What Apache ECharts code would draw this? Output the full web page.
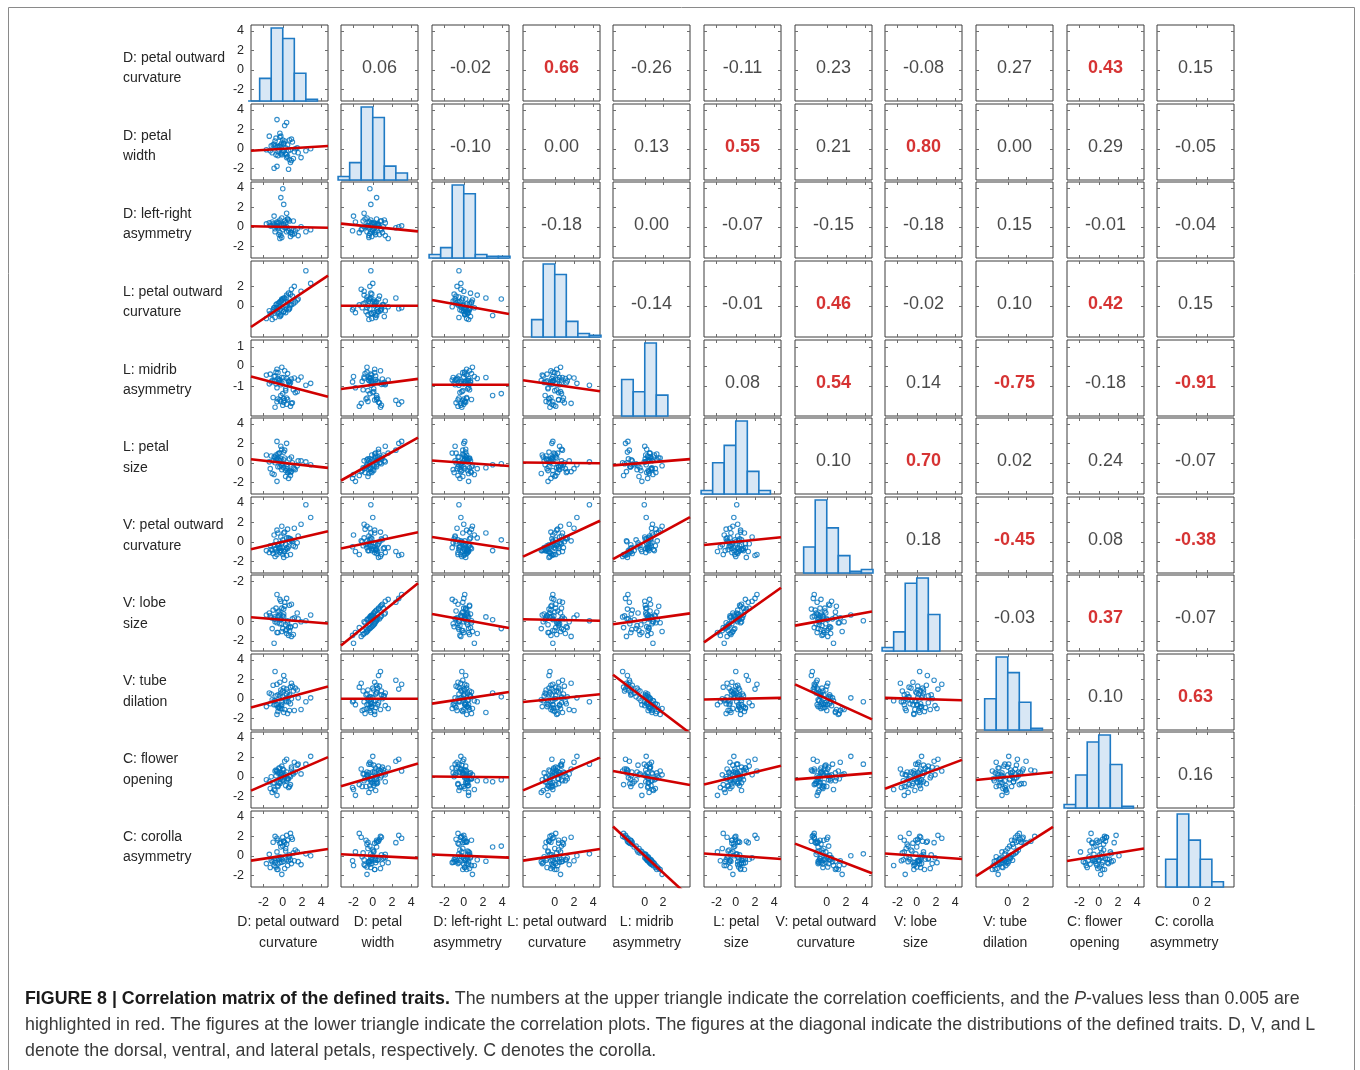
<!DOCTYPE html>
<html><head><meta charset="utf-8">
<script src="https://cdn.jsdelivr.net/npm/echarts@6/dist/echarts.min.js"></script>
<style>html,body{margin:0;padding:0;background:#fff}#chart{width:1360px;height:1070px}</style>
</head><body><div id="chart"></div>
<script>
// ---------- DATA ----------
const traitNames = [
  "D: petal outward\ncurvature", "D: petal\nwidth", "D: left-right\nasymmetry",
  "L: petal outward\ncurvature", "L: midrib\nasymmetry", "L: petal\nsize",
  "V: petal outward\ncurvature", "V: lobe\nsize", "V: tube\ndilation",
  "C: flower\nopening", "C: corolla\nasymmetry"
];
// correlation coefficients, upper triangle, row i -> columns i+1..10
const corrUpper = [
  [0.06, -0.02, 0.66, -0.26, -0.11, 0.23, -0.08, 0.27, 0.43, 0.15],
  [-0.10, 0.00, 0.13, 0.55, 0.21, 0.80, 0.00, 0.29, -0.05],
  [-0.18, 0.00, -0.07, -0.15, -0.18, 0.15, -0.01, -0.04],
  [-0.14, -0.01, 0.46, -0.02, 0.10, 0.42, 0.15],
  [0.08, 0.54, 0.14, -0.75, -0.18, -0.91],
  [0.10, 0.70, 0.02, 0.24, -0.07],
  [0.18, -0.45, 0.08, -0.38],
  [-0.03, 0.37, -0.07],
  [0.10, 0.63],
  [0.16]
];
// 1 = P < 0.005 (highlighted in red)
const sigUpper = [
  [0, 0, 1, 0, 0, 0, 0, 0, 1, 0],
  [0, 0, 0, 1, 0, 1, 0, 0, 0],
  [0, 0, 0, 0, 0, 0, 0, 0],
  [0, 0, 1, 0, 0, 1, 0],
  [0, 1, 0, 1, 0, 1],
  [0, 1, 0, 0, 0],
  [0, 1, 0, 1],
  [0, 1, 0],
  [0, 1],
  [0]
];
// per-sample standardized trait values (estimated from the scatter plots)
const dPetalCurv = [-0.9, 0.4, 0.7, -1.3, 0.9, -0.4, 0.3, 0.2, 1.9, -0.3,
  0.8, -0.6, 1.5, -1.1, -0.2, -0.7, 0.5, 0.6, 0.1, 1.2,
  -1.4, 0.0, -0.5, 1.1, -0.8, 0.4, 0.8, -1.0, -0.1, 2.9,
  -0.2, 0.9, -0.6, 0.1, -0.8, 0.6, -0.3, -0.5, -1.7, 1.3,
  -0.1, -0.9, 1.0, -0.4, 0.3, 0.2, -0.3, -1.2, 0.4, 0.0,
  -0.5, 2.4, -0.7, 0.5, -0.2, 0.7, 0.1, 1.6, -0.6, -0.1];
const dPetalWidth = [0.5, -0.6, 0.9, -0.2, -1.2, 0.3, 0.1, 2.4, -0.9, 1.2,
  -1.4, 0.2, 0.1, -0.4, 1.3, -0.6, 0.4, -2.1, 0.6, -0.3,
  1.3, -0.3, 0.2, -1.0, 0.3, 2.7, -0.1, 0.4, -0.6, 0.0,
  -0.5, 1.0, -1.8, -0.2, 0.8, -0.2, 1.6, -0.7, -0.1, 0.0,
  0.6, -2.0, 0.7, -0.1, -0.5, 0.8, 0.2, 0.3, -0.9, 0.9,
  -0.3, -0.2, 1.1, -0.8, 0.4, -1.1, 0.5, -0.4, 3.0, -0.4];
const dLeftRight = [0.2, -0.5, 0.6, 0.1, -0.3, -0.8, 0.4, -0.1, 0.0, 0.7,
  -0.6, 0.3, -0.2, 0.5, -0.9, 0.1, 0.8, -0.4, 0.2, -0.7,
  0.4, 3.9, -0.1, 0.6, -0.5, 0.0, -1.0, 0.3, 0.9, -0.3,
  0.1, -0.6, 0.5, 2.3, -0.2, 0.7, -1.2, 0.0, 0.3, -0.4,
  0.2, 1.1, -0.8, 0.4, -0.1, 0.6, -0.6, 0.1, 1.4, -0.3,
  0.5, -0.5, 0.0, 0.8, 3.0, -0.2, 0.3, -0.9, 0.1, -1.1];
const lPetalCurv = [-0.2, 0.9, -0.3, -0.8, 1.7, 0.3, -0.7, 0.8, 1.5, -1.1,
  0.1, 0.2, 0.6, -1.4, 0.5, -0.2, 0.4, -0.4, -0.6, 2.0,
  -0.5, 0.7, 0.0, 0.2, -1.2, -0.3, 1.2, -0.4, 0.6, 2.3,
  -0.9, 0.1, -0.7, 0.8, -0.5, 1.3, -0.1, -0.6, -1.3, 0.4,
  0.7, -0.2, 1.0, -0.8, 0.0, -0.4, 0.4, -0.9, 1.1, -0.1,
  -0.3, 3.6, 0.1, 0.3, -1.0, -0.2, -0.6, 0.7, -0.2, 0.5];
const lMidrib = [0.35, -1.35, 0.05, 1.1, -1.9, 0.55, -0.4, -1.6, 0.8, 0.25,
  -2.2, 1.6, -0.7, 0.45, 0.0, 1.3, -1.5, 0.3, -1.8, 0.7,
  0.1, -0.9, 1.25, -0.5, 0.9, -2.0, 0.2, -1.3, 1.8, 0.15,
  -1.7, 0.6, -0.3, 0.75, -2.3, 0.4, 0.5, -1.45, 1.0, -0.8,
  0.2, 0.85, -1.85, 0.4, -0.6, 1.45, -1.55, 0.3, 0.65, -2.1,
  0.65, -0.05, 0.1, 1.15, -1.1, 0.35, -1.4, 0.5, -1.75, 0.75];
const lPetalSize = [0.6, -0.2, 0.4, -0.6, -0.9, 1.0, -0.8, 1.3, 0.2, 0.2,
  -1.3, 0.5, -0.3, -1.1, 1.7, 0.3, -0.4, -1.6, 1.1, -0.6,
  0.1, -0.1, 0.9, -0.5, 0.6, 2.0, -1.0, 0.2, -0.3, -0.2,
  0.4, 0.6, -1.9, -0.5, 0.0, -0.9, 1.0, -0.4, 0.8, -0.7,
  1.4, -1.2, 0.0, 0.3, -1.4, 0.5, -0.4, 0.7, -0.6, -0.1,
  0.4, 0.1, 0.8, -1.0, -0.2, -0.8, 0.3, 0.2, 2.2, -0.7];
const vPetalCurv = [-0.3, -0.6, 0.3, -0.4, 0.1, -0.2, -0.8, -1.0, 1.8, -0.6,
  -1.3, 1.2, -0.1, -0.9, 0.5, 0.1, -0.7, -0.5, -1.6, 1.4,
  -1.1, 0.2, 0.9, -0.4, -0.8, -1.4, 0.3, -1.2, 1.6, 2.5,
  -0.9, 0.2, -1.0, 0.9, -1.5, 0.4, -0.6, -0.3, -0.9, -0.5,
  -0.2, 0.7, 0.0, -0.7, -0.3, 1.0, -1.1, -0.8, 0.4, -1.3,
  -0.4, 3.8, -0.7, 1.3, -0.9, 0.0, -1.0, 0.6, -1.3, -0.1];
const vLobeSize = [0.1, -1.0, 1.5, 0.4, -1.7, 0.9, -0.5, 1.8, -0.2, 0.6,
  -0.8, -0.3, 0.7, -0.9, 1.9, 0.0, -0.1, -1.6, 1.1, 0.2,
  0.7, -0.9, 0.8, -1.5, -0.2, 2.2, -0.7, 1.0, -1.2, 0.5,
  0.1, 1.6, -1.3, 0.3, 0.3, -0.8, 2.1, -1.3, 0.5, -0.6,
  1.2, -2.4, 0.1, 0.4, -1.1, 1.4, -0.4, 0.2, -1.4, 0.4,
  0.3, -0.1, 1.2, -0.3, 0.0, -1.1, 0.6, 0.1, 2.6, -0.4];
const vTubeDil = [-0.6, 0.5, 0.4, -0.5, 1.6, -0.9, -0.2, 1.9, -1.1, 0.3,
  1.2, -1.6, 0.9, -0.1, -0.7, -0.6, 0.7, -0.3, 2.4, -1.2,
  0.6, 0.2, -1.3, 0.8, -0.2, 1.0, -0.5, 1.4, -1.0, 0.1,
  0.9, 0.0, -0.6, -1.4, 2.8, 0.2, -1.0, 0.4, -0.8, 1.1,
  -0.4, -0.2, 1.3, -0.8, 0.0, -1.1, 1.7, 0.5, -0.3, 0.8,
  -0.9, -0.3, 0.3, -1.5, 0.6, -1.2, 1.1, 0.1, 1.5, -0.6];
const cOpening = [-0.6, 0.5, 0.1, -1.2, 0.8, 0.9, -0.9, 1.6, 0.3, 0.4,
  -0.8, 0.6, 1.2, -1.6, 0.2, 0.1, -0.2, -1.1, 0.7, 1.5,
  -0.5, -0.3, 0.4, 0.3, -1.4, 1.8, 0.0, -0.7, 0.2, 2.1,
  -0.1, 1.0, -1.9, -0.4, 0.6, -0.2, 0.9, -1.0, -0.3, 0.5,
  1.1, -1.3, 0.4, -0.6, 0.2, -0.1, -0.7, 0.0, -0.4, 0.8,
  -0.9, 1.3, 0.7, -0.2, -0.5, -1.0, 0.1, 1.3, 0.6, 0.4];
const cCorollaAsym = [-0.45, 1.2, 0.1, -1.2, 1.9, -0.35, 0.5, 1.35, -0.9, -0.1,
  2.3, -1.4, 0.4, -0.6, -0.2, -1.15, 1.6, -0.5, 1.5, -0.5,
  0.15, 1.0, -1.4, 0.3, -0.7, 2.1, -0.4, 1.4, -1.9, 0.0,
  1.4, -0.8, 0.4, -0.55, 2.0, -0.2, -0.7, 1.6, -0.8, 0.6,
  -0.35, -1.0, 1.7, -0.3, 0.75, -1.3, 1.3, -0.45, -0.4, 1.9,
  -0.85, 0.2, -0.25, -1.0, 0.9, -0.1, 1.5, -0.6, 1.8, -0.65];
// histograms on the diagonal: first bin edge per trait, bin width, counts
const histStart = [-3.6, -3.6, -3.6, -2.4, -2.4, -3.6, -2.4, -3.6, -2.4, -3.6, -2.4];
const histBinWidth = 1.2;
const histCounts = [
  [0, 13, 42, 36, 16, 1],
  [2, 10, 42, 36, 8, 4],
  [2, 6, 42, 37, 2, 1, 1],
  [10, 42, 36, 9, 2, 1],
  [21, 14, 42, 12],
  [2, 18, 28, 42, 13, 2],
  [15, 42, 26, 10, 1, 2],
  [2, 11, 39, 42, 21],
  [18, 42, 33, 16, 1],
  [2, 19, 38, 42, 25, 1],
  [16, 42, 27, 16, 3]
];
// tick positions and labels as printed in the figure
const xTickVals = [[-2,0,2,4],[-2,0,2,4],[-2,0,2,4],[0,2,4],[0,1.9],[-2,0,2,4],[0,2,4],[-2,0,2,4],[0,1.9],[-2,0,2,4],[0.75,1.95]];
const xTickText = [["-2","0","2","4"],["-2","0","2","4"],["-2","0","2","4"],["0","2","4"],["0","2"],["-2","0","2","4"],["0","2","4"],["-2","0","2","4"],["0","2"],["-2","0","2","4"],["0","2"]];
const yTickVals = [[4,2,0,-2],[4,2,0,-2],[4,2,0,-2],[2,0],[3.9,1.95,-0.15],[4,2,0,-2],[4,2,0,-2],[3.95,-0.15,-2.15],[4,2,0,-2],[4,2,0,-2],[4,2,0,-2]];
const yTickText = [["4","2","0","-2"],["4","2","0","-2"],["4","2","0","-2"],["2","0"],["1","0","-1"],["4","2","0","-2"],["4","2","0","-2"],["-2","0","-2"],["4","2","0","-2"],["4","2","0","-2"],["4","2","0","-2"]];
const X_RANGE = [-3.3, 4.7];
const Y_RANGE = [-3.2, 4.6];

const captionLines = [
  "{b|FIGURE 8 | Correlation matrix of the defined traits.} The numbers at the upper triangle indicate the correlation coefficients, and the {i|P}-values less than 0.005 are",
  "highlighted in red. The figures at the lower triangle indicate the correlation plots. The figures at the diagonal indicate the distributions of the defined traits. D, V, and L",
  "denote the dorsal, ventral, and lateral petals, respectively. C denotes the corolla."
];

// ---------- BUILD ----------
const traits = [dPetalCurv, dPetalWidth, dLeftRight, lPetalCurv, lMidrib, lPetalSize,
                vPetalCurv, vLobeSize, vTubeDil, cOpening, cCorollaAsym];
const N = traits.length;
const FONT = "'Liberation Sans', Arial, Helvetica, sans-serif";
const BLUE = '#0072BD';
function corr(a, b) { const i = Math.min(a, b), j = Math.max(a, b); return corrUpper[i][j - i - 1]; }
function sig(a, b) { const i = Math.min(a, b), j = Math.max(a, b); return sigUpper[i][j - i - 1]; }
function lookup(vals, texts, v) {
  let best = 0, bd = Infinity;
  vals.forEach((t, k) => { const d = Math.abs(t - v); if (d < bd) { bd = d; best = k; } });
  return texts[best];
}
const cellLeft = j => Math.round(250.5 + 90.68 * j);
const cellTop = i => Math.round(25.3 + 78.55 * i);
const CW = 77, CH = 76;

const grids = [], xAxes = [], yAxes = [], series = [];
const tickStyle = { color: '#6e6e6e', width: 1 };
const noLine = { show: false, onZero: false };
for (let i = 0; i < N; i++) {
  for (let j = 0; j < N; j++) {
    const g = i * N + j;
    grids.push({ left: cellLeft(j), top: cellTop(i), width: CW, height: CH, show: true,
      borderColor: '#3c3c3c', borderWidth: 1, backgroundColor: 'rgba(0,0,0,0)', outerBoundsMode: 'none' });
    xAxes.push({ gridIndex: g, type: 'value', min: X_RANGE[0], max: X_RANGE[1], position: 'bottom',
      axisLine: noLine, splitLine: { show: false },
      axisTick: { show: true, inside: true, length: 3, customValues: xTickVals[j], lineStyle: tickStyle },
      axisLabel: { show: i === N - 1, customValues: xTickVals[j], margin: 9, fontSize: 12.5, color: '#262626', fontFamily: FONT,
        formatter: v => lookup(xTickVals[j], xTickText[j], v) } });
    xAxes.push({ gridIndex: g, type: 'value', min: X_RANGE[0], max: X_RANGE[1], position: 'top',
      axisLine: noLine, splitLine: { show: false }, axisLabel: { show: false },
      axisTick: { show: true, inside: true, length: 3, customValues: xTickVals[j], lineStyle: tickStyle } });
    yAxes.push({ gridIndex: g, type: 'value', min: Y_RANGE[0], max: Y_RANGE[1], position: 'left',
      axisLine: noLine, splitLine: { show: false },
      axisTick: { show: true, inside: true, length: 3, customValues: yTickVals[i], lineStyle: tickStyle },
      axisLabel: { show: j === 0, customValues: yTickVals[i], margin: 7, fontSize: 12.5, color: '#262626', fontFamily: FONT,
        formatter: v => lookup(yTickVals[i], yTickText[i], v) } });
    yAxes.push({ gridIndex: g, type: 'value', min: Y_RANGE[0], max: Y_RANGE[1], position: 'right',
      axisLine: noLine, splitLine: { show: false }, axisLabel: { show: false },
      axisTick: { show: true, inside: true, length: 3, customValues: yTickVals[i], lineStyle: tickStyle } });
  }
}
// histogram count axes
const histAxisBase = yAxes.length;
for (let d = 0; d < N; d++) {
  const g = d * N + d;
  const maxC = Math.max(...histCounts[d]);
  yAxes.push({ gridIndex: g, type: 'value', min: 0, max: maxC / 0.96, show: false, position: 'right',
    axisLine: noLine });
}

for (let i = 0; i < N; i++) {
  for (let j = 0; j < N; j++) {
    const g = i * N + j;
    if (i === j) {
      const bins = histCounts[i].map((c, k) => [histStart[i] + k * histBinWidth, histStart[i] + (k + 1) * histBinWidth, c]);
      series.push({ type: 'custom', xAxisIndex: 2 * g, yAxisIndex: histAxisBase + i, data: bins, clip: false,
        encode: { x: [0, 1], y: 2 }, silent: true,
        renderItem: (params, api) => {
          const p0 = api.coord([api.value(0), 0]);
          const p1 = api.coord([api.value(1), api.value(2)]);
          return { type: 'rect', shape: { x: p0[0], y: p1[1], width: p1[0] - p0[0], height: p0[1] - p1[1] },
            style: { fill: '#d8e7f5', stroke: '#1f7ac4', lineWidth: 1.6 } };
        } });
    } else if (i > j) {
      const pts = traits[j].map((v, k) => [v, traits[i][k]]);
      series.push({ type: 'scatter', xAxisIndex: 2 * g, yAxisIndex: 2 * g, data: pts, symbol: 'circle', symbolSize: 4.5,
        itemStyle: { color: 'rgba(255,255,255,0)', borderColor: BLUE, borderWidth: 1.1 }, silent: true, z: 2 });
      const r = corr(i, j);
      series.push({ type: 'line', xAxisIndex: 2 * g, yAxisIndex: 2 * g, clip: true, showSymbol: false, symbol: 'none',
        data: [[X_RANGE[0], r * X_RANGE[0]], [X_RANGE[1], r * X_RANGE[1]]],
        lineStyle: { color: '#d00000', width: 2.6 }, silent: true, z: 3 });
    } else {
      const r = corr(i, j), s = sig(i, j);
      series.push({ type: 'scatter', xAxisIndex: 2 * g, yAxisIndex: 2 * g, symbolSize: 0, silent: true,
        data: [[(X_RANGE[0] + X_RANGE[1]) / 2, (Y_RANGE[0] + Y_RANGE[1]) / 2]],
        itemStyle: { color: 'rgba(0,0,0,0)' },
        label: { show: true, position: 'inside', offset: [0, 5], formatter: () => r.toFixed(2),
          fontSize: 18, fontFamily: FONT, color: s ? '#cc0000' : '#1a1a1a', fontWeight: s ? 'bold' : 'normal' } });
    }
  }
}

const graphic = [];
graphic.push({ type: 'rect', shape: { x: 8.5, y: 7.5, width: 1346, height: 1100 },
  style: { fill: 'none', stroke: '#8a8a8a', lineWidth: 1 }, silent: true });
for (let i = 0; i < N; i++) {
  graphic.push({ type: 'text', x: 123, y: 68.3 + 77.9 * i, silent: true,
    style: { text: traitNames[i], fontSize: 14, fontFamily: FONT, fill: '#262626', lineHeight: 20.5,
      align: 'left', verticalAlign: 'middle' } });
  graphic.push({ type: 'text', x: 288.3 + 89.6 * i, y: 932.7, silent: true,
    style: { text: traitNames[i], fontSize: 14, fontFamily: FONT, fill: '#262626', lineHeight: 20.5,
      align: 'center', verticalAlign: 'middle' } });
}
captionLines.forEach((t, k) => {
  graphic.push({ type: 'text', x: 25, y: 999 + 26 * k, silent: true,
    style: { text: t, fontSize: 17.8, fontFamily: FONT, fill: '#3a3a3a', align: 'left', verticalAlign: 'middle',
      rich: { b: { fontSize: 17.8, fontWeight: 'bold', fill: '#1a1a1a', fontFamily: FONT },
              i: { fontSize: 17.8, fontStyle: 'italic', fill: '#3a3a3a', fontFamily: FONT } } } });
});

const chart = echarts.init(document.getElementById('chart'), null, { renderer: 'canvas' });
chart.setOption({ animation: false, backgroundColor: '#ffffff', grid: grids, xAxis: xAxes, yAxis: yAxes, series, graphic });
</script>
</body></html>
